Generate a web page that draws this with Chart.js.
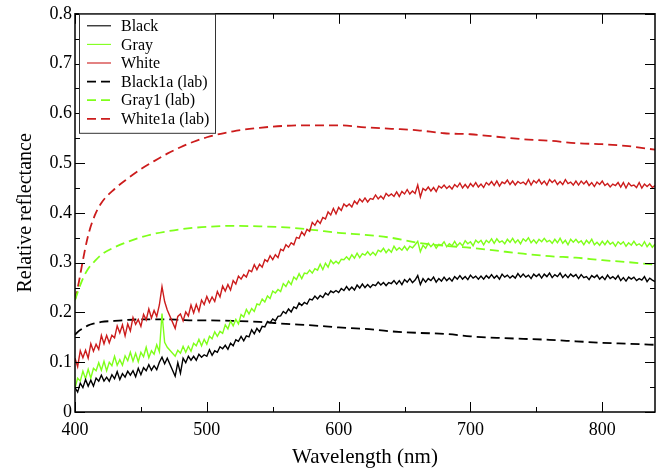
<!DOCTYPE html>
<html>
<head>
<meta charset="utf-8">
<script src="https://cdn.jsdelivr.net/npm/chart.js@4/dist/chart.umd.min.js"></script>
<style>
  html, body { margin: 0; padding: 0; background: #fff; }
  #wrap { width: 666px; height: 475px; }
</style>
</head>
<body>
<div id="wrap"><canvas id="specChart" width="666" height="475"></canvas></div>
<script>
// measured spectra (field), shared wavelengths in nm (gap 470-476 in the data)
const wavelengths = [
  400,402,404,406,408,410,412,414,416,418,420,422,424,426,428,430,432,434,436,438,
  440,442,444,446,448,450,452,454,456,458,460,462,464,466,468,470,
  476,478,
  480,482,484,486,488,490,492,494,496,498,500,502,504,506,508,510,512,514,516,518,
  520,522,524,526,528,530,532,534,536,538,540,542,544,546,548,550,552,554,556,558,
  560,562,564,566,568,570,572,574,576,578,580,582,584,586,588,590,592,594,596,598,
  600,602,604,606,608,610,612,614,616,618,620,622,624,626,628,630,632,634,636,638,
  640,642,644,646,648,650,652,654,656,658,660,662,664,666,668,670,672,674,676,678,
  680,682,684,686,688,690,692,694,696,698,700,702,704,706,708,710,712,714,716,718,
  720,722,724,726,728,730,732,734,736,738,740,742,744,746,748,750,752,754,756,758,
  760,762,764,766,768,770,772,774,776,778,780,782,784,786,788,790,792,794,796,798,
  800,802,804,806,808,810,812,814,816,818,820,822,824,826,828,830,832,834,836,838,
  840];

const whiteMeas = [
  0.108,0.091,0.123,0.109,0.124,0.108,0.137,0.122,0.136,0.126,0.154,0.137,0.154,0.139,0.154,0.149,0.173,0.159,0.175,0.153,
  0.177,0.163,0.19,0.176,0.186,0.172,0.196,0.185,0.207,0.189,0.204,0.192,0.215,0.252,0.222,0.205,
  0.168,0.192,
  0.197,0.183,0.201,0.193,0.215,0.199,0.216,0.202,0.225,0.216,0.232,0.22,0.231,0.222,0.242,0.231,0.253,0.243,0.256,0.245,
  0.264,0.257,0.273,0.267,0.276,0.271,0.285,0.282,0.296,0.286,0.297,0.291,0.306,0.302,0.314,0.306,0.316,0.31,0.327,0.324,
  0.336,0.331,0.34,0.336,0.351,0.349,0.362,0.355,0.367,0.363,0.381,0.375,0.385,0.379,0.391,0.388,0.402,0.396,0.409,0.398,
  0.411,0.405,0.418,0.413,0.418,0.412,0.424,0.418,0.428,0.422,0.43,0.422,0.429,0.427,0.436,0.428,0.434,0.428,0.439,0.434,
  0.438,0.433,0.442,0.433,0.443,0.438,0.447,0.438,0.444,0.439,0.456,0.432,0.449,0.445,0.452,0.444,0.451,0.443,0.454,0.45,
  0.456,0.449,0.454,0.448,0.457,0.452,0.46,0.45,0.457,0.45,0.459,0.453,0.461,0.452,0.458,0.451,0.461,0.456,0.463,0.455,
  0.464,0.454,0.462,0.459,0.466,0.457,0.464,0.456,0.463,0.459,0.462,0.457,0.467,0.456,0.465,0.46,0.467,0.458,0.464,0.456,
  0.467,0.461,0.466,0.457,0.463,0.457,0.467,0.459,0.462,0.456,0.464,0.456,0.464,0.458,0.464,0.455,0.461,0.453,0.462,0.457,
  0.464,0.455,0.459,0.452,0.458,0.455,0.461,0.452,0.461,0.45,0.46,0.454,0.456,0.451,0.461,0.45,0.458,0.453,0.458,0.451,
  0.455];

const grayMeas = [
  0.048,0.068,0.062,0.082,0.067,0.086,0.068,0.088,0.083,0.099,0.084,0.102,0.083,0.1,0.093,0.112,0.094,0.105,0.094,0.113,
  0.103,0.12,0.102,0.118,0.101,0.12,0.111,0.13,0.109,0.123,0.116,0.135,0.121,0.198,0.14,0.13,
  0.112,0.124,
  0.118,0.132,0.12,0.132,0.122,0.138,0.133,0.146,0.133,0.146,0.136,0.152,0.147,0.161,0.152,0.162,0.158,0.175,0.167,0.183,
  0.173,0.186,0.177,0.196,0.191,0.206,0.197,0.208,0.202,0.217,0.215,0.227,0.221,0.233,0.228,0.243,0.239,0.246,0.242,0.258,
  0.252,0.263,0.256,0.271,0.266,0.278,0.268,0.279,0.278,0.285,0.279,0.288,0.285,0.297,0.286,0.299,0.291,0.305,0.298,0.303,
  0.298,0.307,0.306,0.312,0.306,0.316,0.309,0.319,0.31,0.318,0.315,0.322,0.315,0.321,0.315,0.325,0.322,0.329,0.32,0.327,
  0.321,0.333,0.325,0.33,0.325,0.333,0.325,0.333,0.33,0.336,0.343,0.322,0.335,0.329,0.339,0.332,0.338,0.329,0.337,0.335,
  0.342,0.332,0.338,0.334,0.343,0.334,0.34,0.334,0.344,0.338,0.342,0.334,0.345,0.34,0.345,0.336,0.345,0.34,0.348,0.339,
  0.348,0.341,0.344,0.338,0.347,0.341,0.349,0.34,0.346,0.338,0.348,0.343,0.35,0.34,0.346,0.339,0.347,0.342,0.349,0.342,
  0.345,0.339,0.347,0.34,0.349,0.339,0.345,0.336,0.347,0.341,0.347,0.34,0.344,0.336,0.345,0.339,0.347,0.336,0.341,0.335,
  0.343,0.336,0.344,0.337,0.341,0.333,0.342,0.337,0.342,0.333,0.34,0.335,0.343,0.335,0.338,0.333,0.342,0.332,0.339,0.331,
  0.337];

const blackMeas = [
  0.049,0.04,0.058,0.049,0.065,0.052,0.064,0.052,0.068,0.062,0.074,0.062,0.07,0.062,0.075,0.067,0.081,0.065,0.077,0.07,
  0.082,0.074,0.083,0.071,0.088,0.075,0.089,0.083,0.095,0.084,0.093,0.085,0.1,0.11,0.097,0.108,
  0.072,0.099,
  0.078,0.108,0.099,0.112,0.104,0.112,0.104,0.116,0.11,0.115,0.112,0.125,0.114,0.123,0.12,0.131,0.127,0.134,0.126,0.138,
  0.133,0.145,0.142,0.152,0.143,0.153,0.151,0.165,0.157,0.168,0.161,0.172,0.171,0.182,0.179,0.187,0.183,0.192,0.193,0.202,
  0.198,0.207,0.201,0.211,0.208,0.219,0.214,0.22,0.217,0.227,0.225,0.233,0.227,0.234,0.23,0.239,0.235,0.243,0.24,0.244,
  0.24,0.248,0.244,0.252,0.245,0.251,0.245,0.255,0.249,0.257,0.25,0.256,0.25,0.256,0.254,0.261,0.255,0.26,0.254,0.26,
  0.258,0.264,0.257,0.264,0.256,0.266,0.261,0.268,0.26,0.265,0.274,0.256,0.268,0.261,0.268,0.264,0.271,0.261,0.268,0.263,
  0.271,0.264,0.269,0.263,0.272,0.267,0.274,0.267,0.272,0.266,0.275,0.269,0.273,0.267,0.273,0.267,0.274,0.269,0.276,0.269,
  0.274,0.267,0.277,0.271,0.275,0.269,0.274,0.269,0.278,0.271,0.277,0.271,0.275,0.268,0.277,0.272,0.277,0.269,0.277,0.272,
  0.279,0.27,0.276,0.272,0.279,0.27,0.276,0.27,0.277,0.272,0.276,0.268,0.276,0.27,0.272,0.266,0.274,0.27,0.275,0.267,
  0.272,0.266,0.275,0.268,0.272,0.267,0.274,0.264,0.27,0.263,0.271,0.267,0.271,0.264,0.268,0.265,0.272,0.262,0.269,0.265,
  0.262];

// lab spectra
const labWavelengths = [400,403,406,410,415,420,430,440,450,460,470,480,490,500,520,540,560,580,600,620,640,660,680,700,720,740,760,780,800,820,840];
const white1aLab = [0.225,0.262,0.305,0.355,0.395,0.42,0.448,0.469,0.488,0.504,0.519,0.532,0.543,0.552,0.564,0.571,0.575,0.576,0.576,0.572,0.569,0.566,0.56,0.558,0.553,0.548,0.545,0.54,0.538,0.534,0.527];
const gray1Lab = [0.225,0.248,0.268,0.288,0.303,0.316,0.331,0.342,0.351,0.358,0.363,0.367,0.37,0.372,0.374,0.373,0.371,0.366,0.36,0.356,0.35,0.34,0.334,0.33,0.324,0.318,0.313,0.31,0.305,0.301,0.296];
const black1aLab = [0.155,0.163,0.168,0.174,0.178,0.181,0.183,0.185,0.186,0.186,0.186,0.185,0.184,0.184,0.183,0.181,0.177,0.174,0.17,0.167,0.162,0.159,0.157,0.152,0.149,0.147,0.145,0.142,0.139,0.137,0.135];

const seriesNames = ['Black', 'Gray', 'White', 'Black1a (lab)', 'Gray1 (lab)', 'White1a (lab)'];

const BLACK = '#000000';
const GREEN = '#7fff1a';
const RED = '#cc1c1c';
const FONT = "'Liberation Serif', 'DejaVu Serif', serif";

function pts(xs, ys) {
  return xs.map((x, i) => ({ x: x, y: ys[i] }));
}

function measSet(label, ys, color) {
  return {
    label: label, data: pts(wavelengths, ys), borderColor: color, backgroundColor: color,
    borderWidth: 1.4, pointRadius: 0, tension: 0, fill: false
  };
}
function labSet(label, ys, color) {
  return {
    label: label, data: pts(labWavelengths, ys), borderColor: color, backgroundColor: color,
    borderWidth: 1.8, borderDash: [9, 5], pointRadius: 0, cubicInterpolationMode: 'monotone', fill: false
  };
}

// frame, inward ticks on all four sides, legend box inside the plot
const framePlugin = {
  id: 'frame',
  afterDraw(chart) {
    const ctx = chart.ctx;
    const a = chart.chartArea;
    const xs = chart.scales.x, ys = chart.scales.y;
    ctx.save();
    ctx.strokeStyle = '#000';
    ctx.lineWidth = 1.5;
    ctx.strokeRect(a.left, a.top, a.right - a.left, a.bottom - a.top);
    ctx.lineWidth = 1;
    ctx.beginPath();
    for (let v = 400; v <= 840; v += 50) {
      const px = Math.round(xs.getPixelForValue(v)) + 0.5;
      const len = v % 100 === 0 ? 10 : 5;
      ctx.moveTo(px, a.bottom); ctx.lineTo(px, a.bottom - len);
      ctx.moveTo(px, a.top); ctx.lineTo(px, a.top + len);
    }
    for (let i = 0; i <= 16; i++) {
      const v = i * 0.05;
      const py = Math.round(ys.getPixelForValue(v)) + 0.5;
      const len = i % 2 === 0 ? 10 : 5;
      ctx.moveTo(a.left, py); ctx.lineTo(a.left + len, py);
      ctx.moveTo(a.right, py); ctx.lineTo(a.right - len, py);
    }
    ctx.stroke();

    // legend
    const bx = a.left + 4, by = a.top, bw = 136, bh = 119;
    ctx.fillStyle = '#fff';
    ctx.fillRect(bx, by, bw, bh);
    ctx.strokeStyle = '#333';
    ctx.lineWidth = 1;
    ctx.strokeRect(bx + 0.5, by + 0.5, bw, bh);
    ctx.font = '16px ' + FONT;
    ctx.textBaseline = 'middle';
    ctx.textAlign = 'left';
    chart.data.datasets.forEach((ds, i) => {
      const y = by + 12 + i * 18.6;
      ctx.strokeStyle = ds.borderColor;
      ctx.lineWidth = ds.borderDash ? 1.8 : 1.1;
      ctx.setLineDash(ds.borderDash ? [9, 5] : []);
      ctx.beginPath();
      ctx.moveTo(bx + 8, y); ctx.lineTo(bx + 32, y);
      ctx.stroke();
      ctx.setLineDash([]);
      ctx.fillStyle = '#000';
      ctx.fillText(seriesNames[i], bx + 42, y + 1);
    });
    ctx.restore();
  }
};

const ctxSpec = document.getElementById('specChart').getContext('2d');
const specChart = new Chart(ctxSpec, {
  type: 'line',
  data: {
    datasets: [
      measSet(seriesNames[0], blackMeas, BLACK),
      measSet(seriesNames[1], grayMeas, GREEN),
      measSet(seriesNames[2], whiteMeas, RED),
      labSet(seriesNames[3], black1aLab, BLACK),
      labSet(seriesNames[4], gray1Lab, GREEN),
      labSet(seriesNames[5], white1aLab, RED)
    ]
  },
  options: {
    responsive: false,
    animation: false,
    devicePixelRatio: 1,
    layout: { padding: { left: 0, top: 12, right: 11, bottom: 0 } },
    plugins: { legend: { display: false }, tooltip: { enabled: false } },
    scales: {
      x: {
        type: 'linear', min: 400, max: 840,
        grid: { display: false, drawTicks: false }, border: { display: false },
        ticks: { stepSize: 100, includeBounds: false, padding: 7, color: '#000', font: { family: FONT, size: 18 } },
        title: { display: true, text: 'Wavelength (nm)', color: '#000', font: { family: FONT, size: 21 }, padding: { top: 0, bottom: 5 } },
        afterFit(s) { s.height = 63; }
      },
      y: {
        type: 'linear', min: 0, max: 0.8,
        grid: { display: false, drawTicks: false }, border: { display: false },
        ticks: { stepSize: 0.1, includeBounds: false, padding: 3, color: '#000', font: { family: FONT, size: 18 },
          callback: v => v === 0 ? '0' : v.toFixed(1) },
        title: { display: true, text: 'Relative reflectance', color: '#000', font: { family: FONT, size: 20 }, padding: { top: 14, bottom: 0 } },
        afterFit(s) { s.width = 75; }
      }
    }
  },
  plugins: [framePlugin]
});
</script>
</body>
</html>
